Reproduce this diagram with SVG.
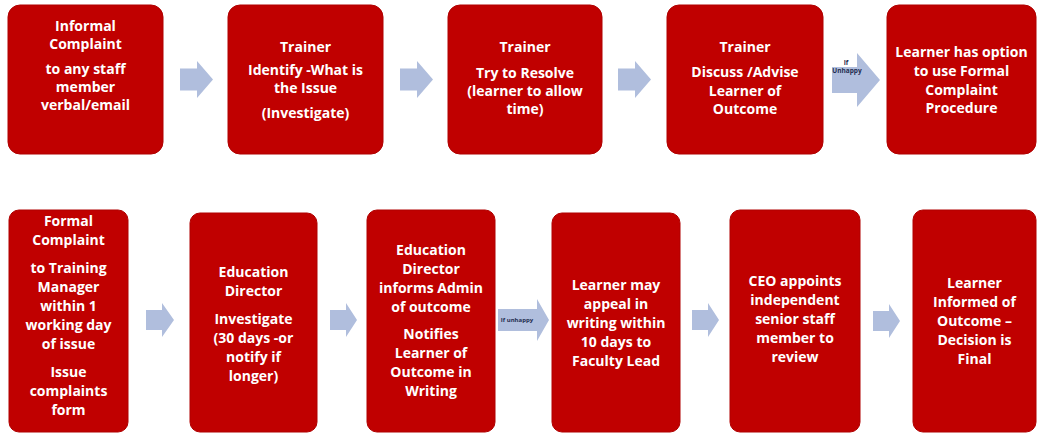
<svg xmlns="http://www.w3.org/2000/svg" width="1037" height="434" viewBox="0 0 1037 434">
<style>
.box{fill:#C00000;stroke:#B00000;stroke-width:1}
.t{font-family:"Open Sans","Liberation Sans",sans-serif;font-weight:700;font-size:14px;fill:#FFFFFF;text-anchor:middle}
.arrow{fill:#B0BEDD}
.lbl{font-family:"Open Sans","Liberation Sans",sans-serif;font-weight:700;fill:#1F2D50;text-anchor:middle}
</style>
<rect width="1037" height="434" fill="#FFFFFF"/>
<g id="connectors">
<path class="arrow" d="M180,68.5 H197 V61 L213,79.5 L197,98 V90.5 H180 Z"/>
<path class="arrow" d="M400,68.5 H417 V61 L433,79.5 L417,98 V90.5 H400 Z"/>
<path class="arrow" d="M618,68.5 H635 V61 L651,79.5 L635,98 V90.5 H618 Z"/>
<path class="arrow" d="M832,67 H857 V53 L880,80 L857,107 V93 H832 Z"/>
<text class="lbl" x="846" y="65" font-size="6.5">If</text>
<text class="lbl" x="847" y="73" font-size="6.5">Unhappy</text>
<path class="arrow" d="M146,310 H162 V303 L174,320 L162,337 V330 H146 Z"/>
<path class="arrow" d="M330,310 H346 V303 L357,320 L346,337 V330 H330 Z"/>
<path class="arrow" d="M498,309 H537 V299 L549,320 L537,341 V331 H498 Z"/>
<text class="lbl" x="517" y="322" font-size="6">If unhappy</text>
<path class="arrow" d="M692,310 H708 V303 L719,320 L708,337 V330 H692 Z"/>
<path class="arrow" d="M873,311 H889 V304 L900,321 L889,338 V331 H873 Z"/>
</g>
<g id="n1">
<rect class="box" x="8" y="5" width="155" height="149" rx="12"/>
<text class="t" x="85.5" y="31">Informal</text>
<text class="t" x="85.5" y="49">Complaint</text>
<text class="t" x="85.5" y="74">to any staff</text>
<text class="t" x="85.5" y="92">member</text>
<text class="t" x="85.5" y="110">verbal/email</text>
</g>
<g id="n2">
<rect class="box" x="228" y="5" width="155" height="149" rx="12"/>
<text class="t" x="305.5" y="52">Trainer</text>
<text class="t" x="305.5" y="75">Identify -What is</text>
<text class="t" x="305.5" y="93">the Issue</text>
<text class="t" x="305.5" y="118">(Investigate)</text>
</g>
<g id="n3">
<rect class="box" x="448" y="5" width="154" height="149" rx="12"/>
<text class="t" x="525" y="52">Trainer</text>
<text class="t" x="525" y="78">Try to Resolve</text>
<text class="t" x="525" y="96">(learner to allow</text>
<text class="t" x="525" y="114">time)</text>
</g>
<g id="n4">
<rect class="box" x="667" y="5" width="156" height="149" rx="12"/>
<text class="t" x="745" y="52">Trainer</text>
<text class="t" x="745" y="77">Discuss /Advise</text>
<text class="t" x="745" y="95.5">Learner of</text>
<text class="t" x="745" y="114">Outcome</text>
</g>
<g id="n5">
<rect class="box" x="887" y="5" width="149" height="149" rx="12"/>
<text class="t" x="961.5" y="57">Learner has option</text>
<text class="t" x="961.5" y="76">to use Formal</text>
<text class="t" x="961.5" y="95">Complaint</text>
<text class="t" x="961.5" y="113">Procedure</text>
</g>
<g id="n6">
<rect class="box" x="9" y="210" width="119" height="222" rx="10"/>
<text class="t" x="68.5" y="226">Formal</text>
<text class="t" x="68.5" y="245">Complaint</text>
<text class="t" x="68.5" y="273">to Training</text>
<text class="t" x="68.5" y="292">Manager</text>
<text class="t" x="68.5" y="311">within 1</text>
<text class="t" x="68.5" y="330">working day</text>
<text class="t" x="68.5" y="349">of issue</text>
<text class="t" x="68.5" y="377">Issue</text>
<text class="t" x="68.5" y="396">complaints</text>
<text class="t" x="68.5" y="415">form</text>
</g>
<g id="n7">
<rect class="box" x="190" y="213" width="127" height="219" rx="10"/>
<text class="t" x="253.5" y="277">Education</text>
<text class="t" x="253.5" y="296">Director</text>
<text class="t" x="253.5" y="324">Investigate</text>
<text class="t" x="253.5" y="343">(30 days -or</text>
<text class="t" x="253.5" y="362">notify if</text>
<text class="t" x="253.5" y="381">longer)</text>
</g>
<g id="n8">
<rect class="box" x="367" y="210" width="128" height="222" rx="10"/>
<text class="t" x="431" y="255">Education</text>
<text class="t" x="431" y="274">Director</text>
<text class="t" x="431" y="293">informs Admin</text>
<text class="t" x="431" y="312">of outcome</text>
<text class="t" x="431" y="339">Notifies</text>
<text class="t" x="431" y="358">Learner of</text>
<text class="t" x="431" y="377">Outcome in</text>
<text class="t" x="431" y="396">Writing</text>
</g>
<g id="n9">
<rect class="box" x="552" y="213" width="128" height="219" rx="10"/>
<text class="t" x="616" y="290">Learner may</text>
<text class="t" x="616" y="309">appeal in</text>
<text class="t" x="616" y="328">writing within</text>
<text class="t" x="616" y="347">10 days to</text>
<text class="t" x="616" y="366">Faculty Lead</text>
</g>
<g id="n10">
<rect class="box" x="730" y="210" width="130" height="222" rx="10"/>
<text class="t" x="795" y="286">CEO appoints</text>
<text class="t" x="795" y="305">independent</text>
<text class="t" x="795" y="324">senior staff</text>
<text class="t" x="795" y="343">member to</text>
<text class="t" x="795" y="362">review</text>
</g>
<g id="n11">
<rect class="box" x="913" y="210" width="123" height="222" rx="10"/>
<text class="t" x="974.5" y="288">Learner</text>
<text class="t" x="974.5" y="307">Informed of</text>
<text class="t" x="974.5" y="326">Outcome –</text>
<text class="t" x="974.5" y="345">Decision is</text>
<text class="t" x="974.5" y="364">Final</text>
</g>
</svg>
